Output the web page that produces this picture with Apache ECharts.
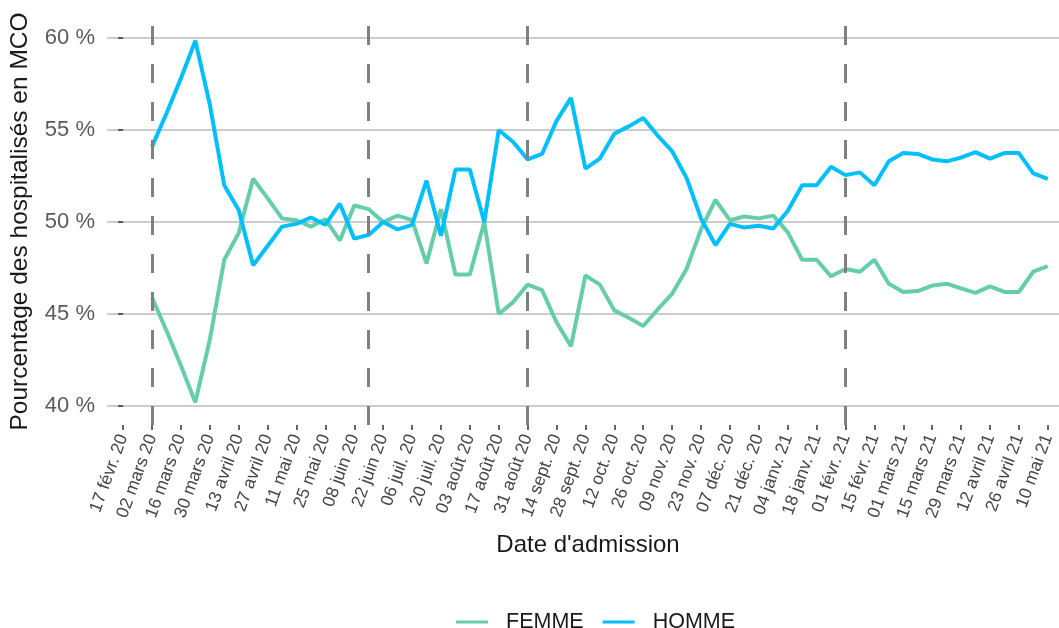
<!DOCTYPE html>
<html>
<head>
<meta charset="utf-8">
<script src="https://cdn.jsdelivr.net/npm/echarts@6/dist/echarts.min.js"></script>
<style>
    html, body { margin: 0; padding: 0; background: #fff; }
    #chart { width: 1059px; height: 628px; }
</style>
</head>
<body>
<div id="chart"></div>
<script>
// semaines d'admission (lundi)
var weeks = [
    '2020-03-02', '2020-03-09', '2020-03-16', '2020-03-23', '2020-03-30',
    '2020-04-06', '2020-04-13', '2020-04-20', '2020-04-27',
    '2020-05-04', '2020-05-11', '2020-05-18', '2020-05-25',
    '2020-06-01', '2020-06-08', '2020-06-15', '2020-06-22', '2020-06-29',
    '2020-07-06', '2020-07-13', '2020-07-20', '2020-07-27',
    '2020-08-03', '2020-08-10', '2020-08-17', '2020-08-24', '2020-08-31',
    '2020-09-07', '2020-09-14', '2020-09-21', '2020-09-28',
    '2020-10-05', '2020-10-12', '2020-10-19', '2020-10-26',
    '2020-11-02', '2020-11-09', '2020-11-16', '2020-11-23', '2020-11-30',
    '2020-12-07', '2020-12-14', '2020-12-21', '2020-12-28',
    '2021-01-04', '2021-01-11', '2021-01-18', '2021-01-25',
    '2021-02-01', '2021-02-08', '2021-02-15', '2021-02-22',
    '2021-03-01', '2021-03-08', '2021-03-15', '2021-03-22', '2021-03-29',
    '2021-04-05', '2021-04-12', '2021-04-19', '2021-04-26',
    '2021-05-03', '2021-05-10'
];

var femme = [
    45.9, 44.1, 42.2, 40.2, 43.6, 47.95, 49.4, 52.35, 51.3, 50.2,
    50.1, 49.75, 50.15, 49.0, 50.9, 50.7, 50.0, 50.35, 50.1, 47.75,
    50.7, 47.15, 47.15, 50.0, 45.0, 45.65, 46.6, 46.3, 44.55, 43.25,
    47.1, 46.6, 45.2, 44.8, 44.35, 45.25, 46.1, 47.45, 49.6, 51.2,
    50.1, 50.3, 50.2, 50.35, 49.45, 47.95, 47.95, 47.05, 47.45, 47.3,
    47.95, 46.65, 46.2, 46.25, 46.55, 46.65, 46.4, 46.15, 46.5, 46.2,
    46.2, 47.3, 47.6
];

var homme = [
    54.1, 55.9, 57.8, 59.85, 56.4, 52.0, 50.65, 47.65, 48.7, 49.75,
    49.9, 50.25, 49.85, 51.0, 49.1, 49.3, 50.0, 49.6, 49.85, 52.25,
    49.25, 52.85, 52.85, 50.0, 55.0, 54.35, 53.4, 53.7, 55.5, 56.75,
    52.9, 53.45, 54.8, 55.2, 55.65, 54.7, 53.85, 52.4, 50.2, 48.75,
    49.9, 49.7, 49.8, 49.65, 50.6, 52.0, 52.0, 53.0, 52.55, 52.7,
    52.0, 53.3, 53.75, 53.7, 53.4, 53.3, 53.5, 53.8, 53.45, 53.75,
    53.75, 52.65, 52.35
];

// graduations de l'axe des dates (toutes les deux semaines)
var tickDates = [
    '2020-02-17', '2020-03-02', '2020-03-16', '2020-03-30', '2020-04-13', '2020-04-27',
    '2020-05-11', '2020-05-25', '2020-06-08', '2020-06-22', '2020-07-06', '2020-07-20',
    '2020-08-03', '2020-08-17', '2020-08-31', '2020-09-14', '2020-09-28', '2020-10-12',
    '2020-10-26', '2020-11-09', '2020-11-23', '2020-12-07', '2020-12-21', '2021-01-04',
    '2021-01-18', '2021-02-01', '2021-02-15', '2021-03-01', '2021-03-15', '2021-03-29',
    '2021-04-12', '2021-04-26', '2021-05-10'
];
var tickLabels = [
    '17 févr. 20', '02 mars 20', '16 mars 20', '30 mars 20', '13 avril 20', '27 avril 20',
    '11 mai 20', '25 mai 20', '08 juin 20', '22 juin 20', '06 juil. 20', '20 juil. 20',
    '03 août 20', '17 août 20', '31 août 20', '14 sept. 20', '28 sept. 20', '12 oct. 20',
    '26 oct. 20', '09 nov. 20', '23 nov. 20', '07 déc. 20', '21 déc. 20', '04 janv. 21',
    '18 janv. 21', '01 févr. 21', '15 févr. 21', '01 mars 21', '15 mars 21', '29 mars 21',
    '12 avril 21', '26 avril 21', '10 mai 21'
];

var yTicks = [40, 45, 50, 55, 60];

// debut des periodes (lignes pointillees)
var periodStarts = ['2020-03-02', '2020-06-15', '2020-08-31', '2021-02-01'];

// jours depuis le 17 fevrier 2020 (axe numerique, evite les soucis de fuseau)
function toDay(s) {
    var p = s.split('-');
    return Math.round((Date.UTC(+p[0], +p[1] - 1, +p[2]) - Date.UTC(2020, 1, 17)) / 86400000);
}

var tickDays = tickDates.map(toDay);
var labelByDay = {};
tickDays.forEach(function (d, i) { labelByDay[d] = tickLabels[i]; });

var myChart = echarts.init(document.getElementById('chart'), null, { renderer: 'canvas' });

var font = '"Liberation Sans", Arial, sans-serif';

var option = {
    animation: false,
    backgroundColor: '#ffffff',
    textStyle: { fontFamily: font },
    grid: {
        left: 107,
        right: -10,
        top: 18,
        bottom: 203,
        containLabel: false,
        outerBoundsMode: 'none'
    },
    legend: {
        data: ['FEMME', 'HOMME'],
        left: 451,
        top: 606,
        icon: 'rect',
        itemWidth: 32,
        itemHeight: 3,
        itemGap: 19,
        textStyle: {
            fontSize: 21.5,
            color: '#1a1a1a',
            fontFamily: font,
            padding: [0, 0, 0, 13]
        }
    },
    xAxis: {
        type: 'value',
        min: -7.8,
        max: 458.3,
        name: "Date d'admission",
        nameLocation: 'middle',
        nameGap: 108,
        nameTextStyle: { fontSize: 24, color: '#1a1a1a', fontFamily: font },
        axisLine: { show: false },
        axisTick: {
            show: true,
            inside: false,
            customValues: tickDays,
            length: 5,
            lineStyle: { color: '#333333', width: 1.5 }
        },
        axisLabel: {
            customValues: tickDays,
            rotate: 70,
            margin: 10,
            fontSize: 17.5,
            color: '#444444',
            fontFamily: font,
            formatter: function (value) {
                return labelByDay[value] || '';
            }
        },
        splitLine: { show: false }
    },
    yAxis: {
        type: 'value',
        min: 38.97,
        max: 61.09,
        name: 'Pourcentage des hospitalisés en MCO',
        nameLocation: 'middle',
        nameGap: 74,
        nameTextStyle: { fontSize: 24.5, color: '#1a1a1a', fontFamily: font },
        axisLine: { show: false },
        axisTick: {
            show: true,
            inside: false,
            customValues: yTicks,
            length: 5,
            lineStyle: { color: '#333333', width: 1.5 }
        },
        axisLabel: {
            customValues: yTicks,
            margin: 12,
            fontSize: 22,
            color: '#5a5a5a',
            fontFamily: font,
            formatter: function (v) { return v + ' %'; }
        },
        splitLine: {
            show: true,
            lineStyle: { color: '#cccccc', width: 2 }
        }
    },
    series: [
        {
            name: 'FEMME',
            type: 'line',
            data: weeks.map(function (w, i) { return [toDay(w), femme[i]]; }),
            showSymbol: false,
            symbol: 'none',
            lineStyle: { color: '#66CDAA', width: 4 },
            itemStyle: { color: '#66CDAA' },
            z: 3
        },
        {
            name: 'HOMME',
            type: 'line',
            data: weeks.map(function (w, i) { return [toDay(w), homme[i]]; }),
            showSymbol: false,
            symbol: 'none',
            lineStyle: { color: '#00BFFF', width: 4 },
            itemStyle: { color: '#00BFFF' },
            z: 4,
            // lignes verticales ajoutees par-dessus les courbes
            markLine: {
                silent: true,
                symbol: 'none',
                label: { show: false },
                lineStyle: { color: '#808080', width: 3, type: [19, 19] },
                data: periodStarts.map(function (d) { return { xAxis: toDay(d) }; }),
                z: 6
            }
        }
    ]
};

myChart.setOption(option);
</script>
</body>
</html>
